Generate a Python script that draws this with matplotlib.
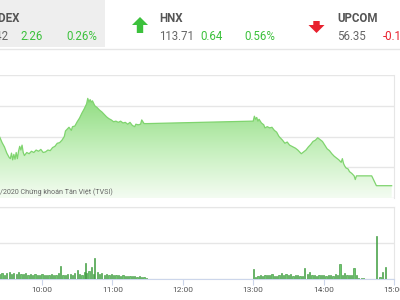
import numpy as np
import matplotlib.pyplot as plt
from matplotlib.patches import Rectangle, Polygon
from matplotlib.colors import LinearSegmentedColormap

plt.rcParams['font.family'] = ['Roboto', 'DejaVu Sans']

# index line (VN-Index intraday)
line_times = ["9:22", "9:24", "9:26", "9:28", "9:30", "9:32", "9:33", "9:34", "9:35", "9:36",
              "9:37", "9:38", "9:39", "9:40", "9:41", "9:42", "9:43", "9:44", "9:45", "9:47",
              "9:49", "9:51", "9:53", "9:55", "9:57", "9:59", "10:01", "10:03", "10:05", "10:07",
              "10:09", "10:11", "10:13", "10:15", "10:17", "10:19", "10:20", "10:22", "10:23", "10:25",
              "10:26", "10:28", "10:30", "10:32", "10:34", "10:36", "10:38", "10:39", "10:40", "10:41",
              "10:42", "10:43", "10:45", "10:47", "10:49", "10:51", "10:53", "10:55", "10:57", "10:59",
              "11:01", "11:03", "11:05", "11:07", "11:09", "11:11", "11:13", "11:15", "11:17", "11:19",
              "11:20", "11:22", "11:24", "11:25", "11:27", "11:30",
              "13:00", "13:01", "13:02", "13:03", "13:04", "13:05", "13:07", "13:09", "13:10", "13:12",
              "13:14", "13:16", "13:18", "13:20", "13:22", "13:25", "13:27", "13:29", "13:31", "13:33",
              "13:36", "13:38", "13:41", "13:43", "13:45", "13:47", "13:49", "13:51", "13:53", "13:55",
              "13:57", "13:59", "14:01", "14:03", "14:05", "14:07", "14:09", "14:11", "14:13", "14:15",
              "14:16", "14:17", "14:18", "14:19", "14:21", "14:22", "14:24", "14:26", "14:27", "14:28",
              "14:41", "14:45", "14:58"]
line_values = [880.5, 879.9, 879.0, 878.3, 877.3, 876.6, 876.4, 877.3, 876.2, 877.1,
               876.3, 877.4, 876.4, 877.6, 878.4, 877.8, 878.6, 877.4, 876.9, 877.4,
               877.2, 877.6, 877.4, 877.8, 877.6, 877.9, 877.4, 877.5, 877.8, 877.7,
               878.2, 878.4, 878.9, 879.0, 879.4, 880.0, 880.9, 881.3, 881.5, 881.0,
               881.6, 881.7, 882.4, 883.0, 883.8, 884.5, 885.3, 886.2, 885.6, 886.0,
               885.6, 885.8, 885.0, 884.7, 884.3, 884.0, 883.6, 883.2, 882.9, 882.7,
               882.4, 882.5, 882.3, 882.5, 882.2, 882.3, 882.0, 882.3, 881.8, 881.6,
               882.0, 881.9, 882.0, 882.7, 882.1, 882.1,
               882.5, 883.3, 882.8, 883.1, 882.5, 882.8, 882.2, 881.9, 881.4, 881.6,
               881.4, 881.5, 881.0, 880.7, 880.0, 879.4, 878.9, 879.1, 878.6, 878.4,
               878.1, 877.8, 877.2, 877.5, 877.8, 878.3, 878.7, 879.2, 879.4, 879.8,
               879.5, 879.2, 878.6, 878.0, 877.7, 877.2, 876.8, 876.5, 876.2, 875.8,
               876.4, 875.6, 875.2, 874.9, 874.7, 874.3, 874.0, 873.6, 873.0, 873.6,
               873.6, 872.0, 872.0]

# volume bars (million shares)
vol_times = ["9:24", "9:26", "9:28", "9:30", "9:32", "9:34", "9:36", "9:38", "9:40", "9:42",
             "9:44", "9:46", "9:48", "9:50", "9:52", "9:54", "9:56", "9:58", "10:00", "10:02",
             "10:04", "10:06", "10:08", "10:10", "10:12", "10:14", "10:16", "10:18", "10:20", "10:22",
             "10:24", "10:26", "10:28", "10:30", "10:32", "10:34", "10:36", "10:37", "10:38", "10:40",
             "10:42", "10:44", "10:45", "10:47", "10:49", "10:51", "10:53", "10:55", "10:57", "10:59",
             "11:01", "11:03", "11:05", "11:07", "11:09", "11:11", "11:13", "11:15", "11:17", "11:19",
             "11:21", "11:23", "11:25", "11:27", "11:29",
             "13:00", "13:02", "13:04", "13:06", "13:08", "13:10", "13:12", "13:14", "13:16", "13:18",
             "13:20", "13:22", "13:24", "13:26", "13:28", "13:30", "13:32", "13:34", "13:36", "13:38",
             "13:40", "13:42", "13:44", "13:46", "13:48", "13:50", "13:52", "13:54", "13:56", "13:58",
             "14:00", "14:02", "14:04", "14:06", "14:08", "14:10", "14:12", "14:14", "14:16", "14:18",
             "14:20", "14:22", "14:24", "14:26", "14:28", "14:30", "14:32", "14:34",
             "14:45", "14:48", "14:50", "14:53"]
vol_values = [0.15, 0.18, 0.12, 0.16, 0.20, 0.14, 0.17, 0.13, 0.19, 0.15,
              0.13, 0.16, 0.12, 0.14, 0.11, 0.13, 0.12, 0.10, 0.13, 0.11,
              0.12, 0.10, 0.14, 0.12, 0.11, 0.16, 0.36, 0.12, 0.10, 0.13,
              0.15, 0.12, 0.18, 0.25, 0.14, 0.12, 0.20, 0.44, 0.16, 0.22,
              0.33, 0.15, 0.58, 0.20, 0.14, 0.16, 0.12, 0.14, 0.11, 0.13,
              0.12, 0.10, 0.11, 0.09, 0.10, 0.08, 0.09, 0.07, 0.08, 0.07,
              0.06, 0.07, 0.05, 0.05, 0.04,
              0.28, 0.06, 0.08, 0.10, 0.09, 0.12, 0.11, 0.10, 0.13, 0.09,
              0.08, 0.11, 0.17, 0.10, 0.14, 0.12, 0.13, 0.09, 0.10, 0.11,
              0.08, 0.09, 0.30, 0.13, 0.20, 0.11, 0.10, 0.09, 0.12, 0.10,
              0.11, 0.08, 0.10, 0.12, 0.09, 0.13, 0.11, 0.42, 0.12, 0.18,
              0.11, 0.12, 0.10, 0.30, 0.11, 0.03, 0.02, 0.03,
              1.19, 0.06, 0.20, 0.33]

# header quotes (what is visible of them)
idx_names = ["VNINDEX", "HNX", "UPCOM"]
idx_values = ["871.42", "113.71", "56.35"]
idx_changes = ["2.26", "0.64", "-0.12"]
idx_pcts = ["0.26%", "0.56%"]

tick_hours = [10, 11, 12, 13, 14, 15]


def to_hours(t):
    h, m = t.split(":")
    return int(h) + int(m) / 60


lx = np.array([to_hours(t) for t in line_times])
ly = np.array(line_values)
vx = np.array([to_hours(t) for t in vol_times])
vy = np.array(vol_values)

W, H = 400, 300
fig = plt.figure(figsize=(4, 3), dpi=100)
fig.patch.set_facecolor('white')
xlim = (9.4034, 15.0)


def frac(x0, y0, x1, y1):
    return [x0 / W, 1 - y1 / H, (x1 - x0) / W, (y1 - y0) / H]


# header
green = '#3cc13c'
red = '#e8212e'
grey_txt = '#555555'
fig.patches.append(Rectangle((0, 1 - 47 / H), 105 / W, 47 / H, transform=fig.transFigure,
                             facecolor='#eeeeee', edgecolor='none', zorder=0))
fig.add_artist(plt.Line2D([0, 1], [1 - 48.5 / H, 1 - 48.5 / H], transform=fig.transFigure,
                          color='#e6e6e6', lw=1))


def arrow(cx, top, bot, color, up=True):
    hw, sw, hh = 8, 3.2, 8
    if up:
        pts = [(cx, top), (cx + hw, top + hh), (cx + sw, top + hh), (cx + sw, bot),
               (cx - sw, bot), (cx - sw, top + hh), (cx - hw, top + hh)]
    else:
        pts = [(cx, bot), (cx + hw, bot - hh), (cx + sw, bot - hh), (cx + sw, top),
               (cx - sw, top), (cx - sw, bot - hh), (cx - hw, bot - hh)]
    pts = [(px / W, 1 - py / H) for px, py in pts]
    fig.patches.append(Polygon(pts, closed=True, transform=fig.transFigure,
                               facecolor=color, edgecolor='none'))


arrow(140, 17, 33, green, up=True)
arrow(316.5, 21, 33, red, up=False)

name_x = [20, 159, 337]
val_x = [9, 159, 337]
chg_x = [43, 223, 383]
chg_ha = ['right', 'right', 'left']
pct_x = [97, 275]
colors = [green, green, red]
for i in range(3):
    fig.text(name_x[i] / W, 1 - 18 / H, idx_names[i], ha='right' if i == 0 else 'left',
             va='center', fontsize=8.3, fontweight='bold', color=grey_txt)
    fig.text(val_x[i] / W, 1 - 37 / H, idx_values[i], ha='right' if i == 0 else 'left',
             va='center', fontsize=8.3, color='#666666')
    fig.text(chg_x[i] / W, 1 - 37 / H, idx_changes[i], ha=chg_ha[i], va='center',
             fontsize=8.3, color=colors[i])
for i in range(2):
    fig.text(pct_x[i] / W, 1 - 37 / H, idx_pcts[i], ha='right', va='center',
             fontsize=8.3, color=colors[i])

# price chart
ax = fig.add_axes(frac(0, 75, 394, 198))
ax.set_xlim(*xlim)
ax.set_ylim(870, 890)
ax.set_yticks([870, 875, 880, 885, 890])
ax.grid(axis='y', color='#e6e6e6', lw=1)
ax.set_xticks([])
ax.tick_params(left=False, labelleft=False)
for s in ['left', 'bottom', 'top']:
    ax.spines[s].set_visible(False)
ax.spines['right'].set_color('#e6e6e6')
ax.set_axisbelow(True)

poly = ax.fill_between(lx, ly, 870, color='none', lw=0)
grad = np.linspace(0, 1, 256).reshape(-1, 1)
cmap = LinearSegmentedColormap.from_list('g', ['#8fdc80', '#c4efbb', '#f4fcf2'])
img = ax.imshow(grad, cmap=cmap, aspect='auto', extent=[xlim[0], xlim[1], 870, 886.3],
                origin='upper', zorder=1)
img.set_clip_path(poly.get_paths()[0], transform=ax.transData)
ax.plot(lx, ly, color='#7fd46e', lw=0.9, zorder=3)
ax.set_xlim(*xlim)
ax.set_ylim(870, 890)

fig.text(0, 1 - 192 / H, "/2020 Chứng khoán Tân Việt (TVSI)", ha='left', va='center',
         fontsize=5.1, color='#666666')

# volume chart
vax = fig.add_axes(frac(0, 207, 394, 279))
vax.bar(vx, vy, width=0.018, color='#6cc76c', edgecolor='#2f8f2f', lw=0.4, zorder=3)
vax.set_xlim(*xlim)
vax.set_ylim(0, 2)
vax.set_yticks([0, 1, 2])
vax.grid(axis='y', color='#e6e6e6', lw=1)
vax.set_axisbelow(True)
vax.tick_params(left=False, labelleft=False)
vax.set_xticks(tick_hours)
vax.set_xticklabels([f"{h}:00" for h in tick_hours])
vax.tick_params(axis='x', length=4, color='#ccd6eb', labelsize=6, labelcolor='#555555', pad=2)
vax.spines['left'].set_visible(False)
vax.spines['top'].set_color('#e6e6e6')
vax.spines['right'].set_color('#e6e6e6')
vax.spines['bottom'].set_color('#ccd6eb')

fig.savefig('out.png', dpi=100)
